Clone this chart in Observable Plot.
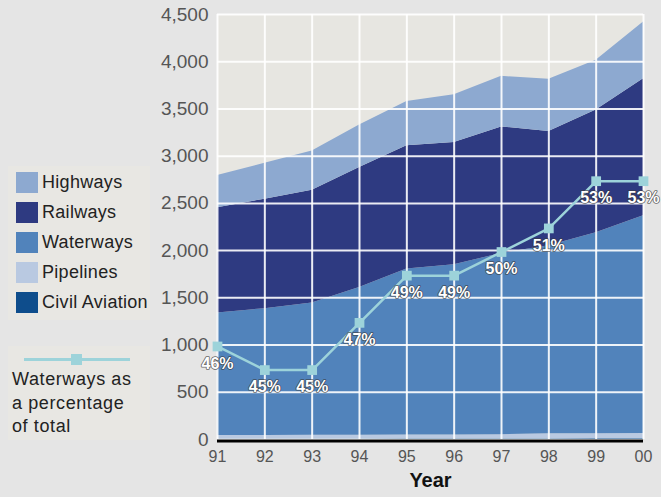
<!DOCTYPE html>
<html>
<head>
<meta charset="utf-8">
<script src="https://cdn.jsdelivr.net/npm/d3@7"></script>
<script src="https://cdn.jsdelivr.net/npm/@observablehq/plot@0.6"></script>
<style>
  html, body { margin: 0; padding: 0; background: #e5e5e5; }
  svg { display: block; }
</style>
</head>
<body>
<div id="chart"></div>
<script>
// ---------- data ----------
const years = [1991, 1992, 1993, 1994, 1995, 1996, 1997, 1998, 1999, 2000];
const yearLabels = ["91", "92", "93", "94", "95", "96", "97", "98", "99", "00"];
const civilAviation = [5, 5, 6, 6, 7, 8, 9, 9, 10, 11];
const pipelines = [38, 38, 38, 39, 40, 40, 42, 51, 52, 52];
const waterways = [1297, 1342, 1401, 1565, 1758, 1802, 1919, 1992, 2128, 2307];
const railways = [1115, 1160, 1195, 1270, 1305, 1295, 1340, 1208, 1300, 1450];
const highways = [340, 380, 415, 450, 470, 505, 535, 555, 525, 600];
const waterwaysShare = [46, 45, 45, 47, 49, 49, 50, 51, 53, 53];
const yTicks = [0, 500, 1000, 1500, 2000, 2500, 3000, 3500, 4000, 4500];
const seriesNames = ["Civil Aviation", "Pipelines", "Waterways", "Railways", "Highways"];
const seriesColors = ["#0e4d8c", "#b9c9e1", "#5183bb", "#2e3a81", "#8da9d0"];
const lineColor = "#9dd3da";
// hidden secondary axis for the percentage line
const shareAxisMin = 42.06, shareAxisUnit = 250;

// ---------- tables ----------
const seriesValues = [civilAviation, pipelines, waterways, railways, highways];
const table = [];
seriesNames.forEach((name, s) => {
  years.forEach((yr, i) => table.push({year: yr, mode: name, value: seriesValues[s][i]}));
});
const shareData = years.map((yr, i) => ({
  year: yr,
  share: waterwaysShare[i],
  pos: (waterwaysShare[i] - shareAxisMin) * shareAxisUnit
}));
const fmt = d3.format(",");
const font = "'Liberation Sans', Arial, Helvetica, sans-serif";

const svg = Plot.plot({
  width: 661,
  height: 497,
  marginLeft: 217,
  marginRight: 18,
  marginTop: 14,
  marginBottom: 58,
  style: {background: "#e5e5e5", fontFamily: font},
  x: {type: "linear", domain: [1991, 2000], axis: null},
  y: {domain: [0, 4500], axis: null},
  color: {domain: seriesNames, range: seriesColors},
  marks: [
    Plot.frame({fill: "#e7e6e1", stroke: null}),
    Plot.areaY(table, {x: "year", y: "value", z: "mode", fill: "mode", order: seriesNames}),
    Plot.ruleY(yTicks, {stroke: "white", strokeWidth: 2, strokeOpacity: 0.9}),
    Plot.ruleX(years, {stroke: "white", strokeWidth: 2, strokeOpacity: 0.9}),
    Plot.ruleY([0], {stroke: "black", strokeWidth: 3, dy: 1.5}),
    Plot.line(shareData, {x: "year", y: "pos", stroke: lineColor, strokeWidth: 2.5}),
    Plot.dot(shareData, {x: "year", y: "pos", symbol: "square", r: 5.5, fill: lineColor, stroke: null}),
    Plot.text(shareData, {
      x: "year", y: "pos", text: d => d.share + "%", dy: 17,
      fill: "white", stroke: "#3a3a3a", strokeWidth: 1.6, strokeOpacity: 0.75,
      fontWeight: "bold", fontSize: 16
    }),
    Plot.text(yTicks, {x: 1991, y: d => d, text: d => fmt(d), dx: -9, textAnchor: "end", fontSize: 19, fill: "#555"}),
    Plot.text(years, {x: d => d, y: 0, text: (d, i) => yearLabels[i], dy: 17, fontSize: 16, fill: "#555"}),
    Plot.text(["Year"], {frameAnchor: "bottom", text: d => d, dy: 47, fontSize: 20, fontWeight: "bold", fill: "#111"})
  ]
});

// ---------- legend ----------
const g = d3.select(svg).append("g").attr("font-family", font).attr("text-anchor", "start");
g.append("rect").attr("x", 8).attr("y", 166).attr("width", 142).attr("height", 154).attr("fill", "#e8e7e3");
g.append("rect").attr("x", 8).attr("y", 346).attr("width", 142).attr("height", 94).attr("fill", "#e8e7e3");
const legendOrder = seriesNames.slice().reverse();
legendOrder.forEach((name, i) => {
  g.append("rect").attr("x", 16).attr("y", 172 + 30 * i).attr("width", 22).attr("height", 21)
    .attr("fill", seriesColors[seriesNames.indexOf(name)]);
  g.append("text").attr("x", 42).attr("y", 188 + 30 * i).attr("font-size", 18)
    .attr("text-anchor", "start").attr("letter-spacing", 0.3).attr("fill", "#222").text(name);
});
g.append("line").attr("x1", 24).attr("x2", 130).attr("y1", 359.5).attr("y2", 359.5)
  .attr("stroke", lineColor).attr("stroke-width", 3);
g.append("rect").attr("x", 71).attr("y", 354).attr("width", 11).attr("height", 11).attr("fill", lineColor);
["Waterways as", "a percentage", "of total"].forEach((t, i) => {
  g.append("text").attr("x", 12).attr("y", 385 + 23.5 * i).attr("font-size", 18)
    .attr("text-anchor", "start").attr("letter-spacing", 0.6).attr("fill", "#222").text(t);
});

document.getElementById("chart").appendChild(svg);
</script>
</body>
</html>
